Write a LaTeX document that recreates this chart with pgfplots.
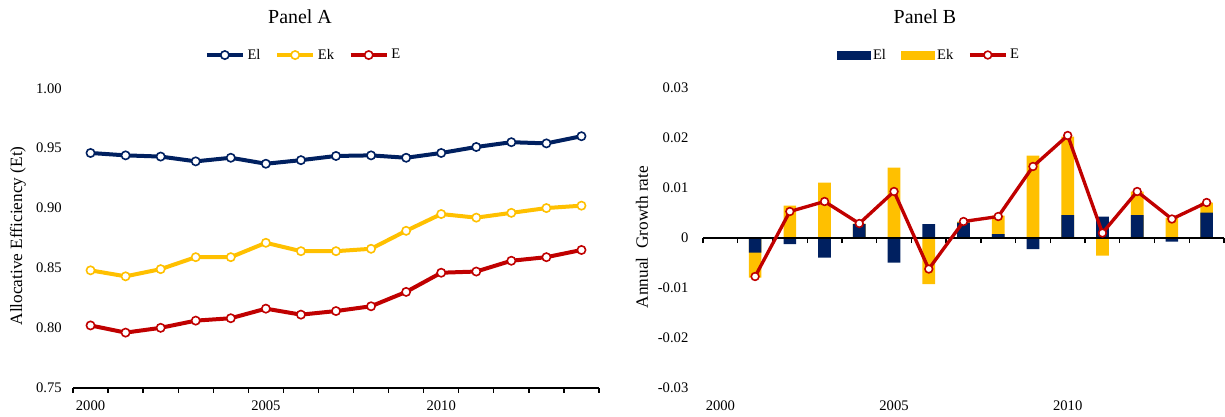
\documentclass[border=0pt]{standalone}
\usepackage{fontspec}
\setmainfont{Liberation Serif}
\usepackage{pgfplots}
\pgfplotsset{compat=1.18}
\usepackage{pgfplotstable}
\definecolor{navy}{HTML}{002060}
\definecolor{gold}{HTML}{FFC000}
\definecolor{dred}{HTML}{C00000}

% Panel A: levels
\pgfplotstableread{
x El Ek E
0 0.946 0.848 0.802
1 0.944 0.843 0.796
2 0.943 0.849 0.800
3 0.939 0.859 0.806
4 0.942 0.859 0.808
5 0.937 0.871 0.816
6 0.940 0.864 0.811
7 0.9435 0.864 0.814
8 0.944 0.866 0.818
9 0.942 0.881 0.830
10 0.946 0.895 0.846
11 0.951 0.892 0.847
12 0.955 0.896 0.856
13 0.954 0.900 0.859
14 0.960 0.902 0.865
}\levels

% Panel B: growth rates; EkTop = top of the Ek bar as stacked in the chart
\pgfplotstableread{
x El EkTop E
1 -0.0029 -0.0079 -0.0077
2 -0.0012 0.0065 0.0053
3 -0.0039 0.0111 0.0073
4 0.0028 0.0029 0.0029
5 -0.0049 0.0141 0.0093
6 0.0028 -0.0092 -0.0062
7 0.0031 0.0033 0.0033
8 0.0008 0.0045 0.0043
9 -0.0022 0.0165 0.0143
10 0.0046 0.0203 0.0205
11 0.0043 -0.0035 0.0010
12 0.0046 0.0093 0.0093
13 -0.0007 0.0041 0.0038
14 0.0051 0.0071 0.0071
}\growth

\pgfplotsset{
  common/.style={
    scale only axis, clip=false,
    xmin=-0.5, xmax=14.5,
    axis x line=bottom, axis y line=left,
    axis line style={draw=none},
    xtick={0,5,10}, xticklabels={2000,2005,2010},
    major tick length=0pt,
    scaled ticks=false,
    ytick style={draw=none},
    ticklabel style={font=\fontsize{11}{13}\selectfont},
    xticklabel style={yshift=-6bp},
    label style={font=\fontsize{13}{15}\selectfont},
    legend style={draw=none, fill=none, font=\fontsize{11}{13}\selectfont,
      legend columns=3, anchor=center,
      /tikz/every even column/.append style={column sep=9bp},
      nodes={inner sep=2bp}},
  },
  boundaryticks/.style={
    minor xtick={-0.5,0.5,...,14.5},
    minor tick length=3.75bp, tick align=outside,
    minor x tick style={black, line width=1bp},
  },
  linelegend/.style={legend image code/.code={%
    \draw[mark repeat=2,mark phase=2,##1] plot coordinates {(0bp,0bp) (13.5bp,0bp) (27bp,0bp)};}},
}

\begin{document}
\begin{tikzpicture}
\useasboundingbox (0,0) rectangle (918.75bp,-312.75bp);

% ---------------- Panel A ----------------
\begin{axis}[common, linelegend, boundaryticks,
  at={(54.75bp,-290.775bp)}, anchor=south west,
  width=394.5bp, height=224.55bp,
  ymin=0.75, ymax=1.00,
  ytick={0.75,0.8,0.85,0.9,0.95,1},
  yticklabels={0.75,0.80,0.85,0.90,0.95,1.00},
  yticklabel style={xshift=-5bp},
  ylabel={Allocative Efficiency (Et)},
  ylabel style={at={(axis description cs:-0.1046,0.507)}, anchor=center},
  legend style={at={(0.439,1.111)}},
  every axis plot/.append style={line width=3bp, mark=*, mark size=3.1bp},
]
\draw[black, line width=1.2bp] (axis cs:-0.5,0.75) -- (axis cs:14.5,0.75);
\addplot[navy, mark options={fill=white, draw=navy, line width=1.2bp}] table[x=x,y=El]{\levels};
\addlegendentry{El}
\addplot[gold, mark options={fill=white, draw=gold, line width=1.2bp}] table[x=x,y=Ek]{\levels};
\addlegendentry{Ek}
\addplot[dred, mark options={fill=white, draw=dred, line width=1.2bp}] table[x=x,y=E]{\levels};
\addlegendentry{E}
\end{axis}

% ---------------- Panel B: bars, labels, legend ----------------
\begin{axis}[common,
  at={(527.25bp,-291bp)}, anchor=south west,
  width=390.75bp, height=225bp,
  ymin=-0.03, ymax=0.03,
  ytick={-0.03,-0.02,-0.01,0,0.01,0.02,0.03},
  yticklabels={-0.03,-0.02,-0.01,0,0.01,0.02,0.03},
  yticklabel style={xshift=-7.5bp},
  xtick style={draw=none},
  ylabel={Annual~ Growth rate},
  ylabel style={at={(axis description cs:-0.117,0.503)}, anchor=center},
  legend style={at={(0.434,1.11)}},
]
\addlegendimage{legend image code/.code={\fill[navy] (0bp,-3bp) rectangle (25bp,3bp);}}
\addlegendentry{El}
\addlegendimage{legend image code/.code={\fill[gold] (0bp,-3bp) rectangle (25bp,3bp);}}
\addlegendentry{Ek}
\addlegendimage{linelegend, dred, line width=2.5bp, mark=*, mark size=2.9bp, mark options={fill=white, draw=dred, line width=1.2bp}}
\addlegendentry{E}
\addplot[forget plot, ybar, bar width=9.5bp, bar shift=0pt, fill=gold, draw=none] table[x=x,y=EkTop]{\growth};
\addplot[forget plot, ybar, bar width=9.5bp, bar shift=0pt, fill=navy, draw=none] table[x=x,y=El]{\growth};
\end{axis}

% ---------------- Panel B overlay: zero axis with ticks, and E line ----------------
% same vertical scale (112.5bp per 0.03); bottom edge sits on y = 0
\begin{axis}[common, boundaryticks,
  at={(527.25bp,-178.5bp)}, anchor=south west,
  width=390.75bp, height=112.5bp,
  ymin=0, ymax=0.03,
  ytick=\empty, xticklabels={,,},
]
\draw[black, line width=1.1bp] (axis cs:-0.5,0) -- (axis cs:14.5,0);
\addplot[dred, line width=2.5bp, mark=*, mark size=2.9bp, mark options={fill=white, draw=dred, line width=1.2bp}] table[x=x,y=E]{\growth};
\end{axis}

\node[font=\fontsize{15}{18}\selectfont, anchor=base] at (225bp,-17.25bp) {Panel A};
\node[font=\fontsize{15}{18}\selectfont, anchor=base] at (693.75bp,-17.25bp) {Panel B};
\end{tikzpicture}
\end{document}
